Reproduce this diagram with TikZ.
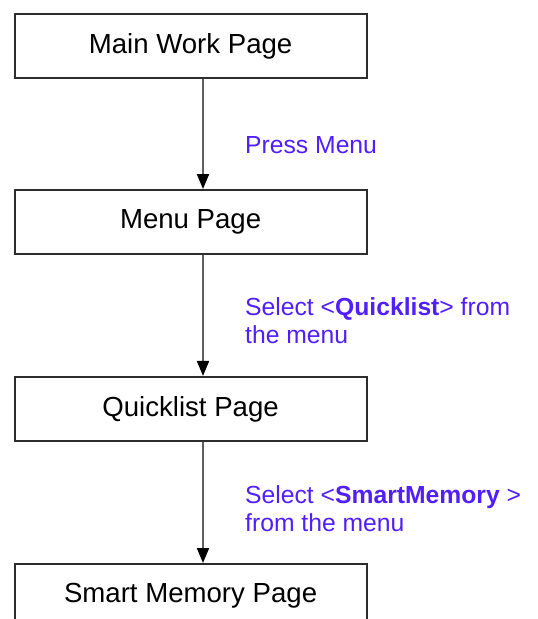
\documentclass[tikz,border=0pt]{standalone}
\usepackage{fontspec}
\setmainfont{Liberation Sans}
\usetikzlibrary{arrows.meta}
\definecolor{labelblue}{RGB}{80,30,255}
\definecolor{boxline}{RGB}{45,45,45}
\definecolor{flowline}{RGB}{95,95,95}
\begin{document}
\begin{tikzpicture}[x=1pt,y=-1pt,
  pagebox/.style={draw=boxline,line width=2pt,fill=white,minimum width=352pt,
    minimum height=64pt,inner sep=0pt,font=\fontsize{27.6}{30}\selectfont},
  steplabel/.style={anchor=base west,align=left,inner sep=0pt,text=labelblue,
    font=\fontsize{24.7}{28.3}\selectfont},
  flow/.style={draw=flowline,line width=2pt,
    -{Triangle[length=15pt,width=12pt,color=black]}}]
\useasboundingbox (0,0) rectangle (538,619);
\begin{scope}
\clip (0,0) rectangle (538,619);
\node[pagebox] (main)  at (190.6,45.9)  {Main Work Page};
\node[pagebox] (menu)  at (190.6,222.0) {Menu Page};
\node[pagebox] (quick) at (190.6,408.9) {Quicklist Page};
\node[pagebox] (smart) at (190.6,596.0) {Smart Memory Page};
\coordinate (ax) at (203,0);
\draw[flow] (main.south -| ax) -- (menu.north -| ax);
\draw[flow] (menu.south -| ax) -- (quick.north -| ax);
\draw[flow] (quick.south -| ax) -- (smart.north -| ax);
% multi-line labels are anchored on the baseline of their last line
\node[steplabel] (l1) at (245,153.3) {Press Menu};
\node[steplabel] (l2) at (245,343.3) {Select <\textbf{Quicklist}> from\\the menu};
\node[steplabel] (l3) at (245,531.7) {Select <\textbf{SmartMemory} >\\from the menu};
\end{scope}
\end{tikzpicture}
\end{document}
